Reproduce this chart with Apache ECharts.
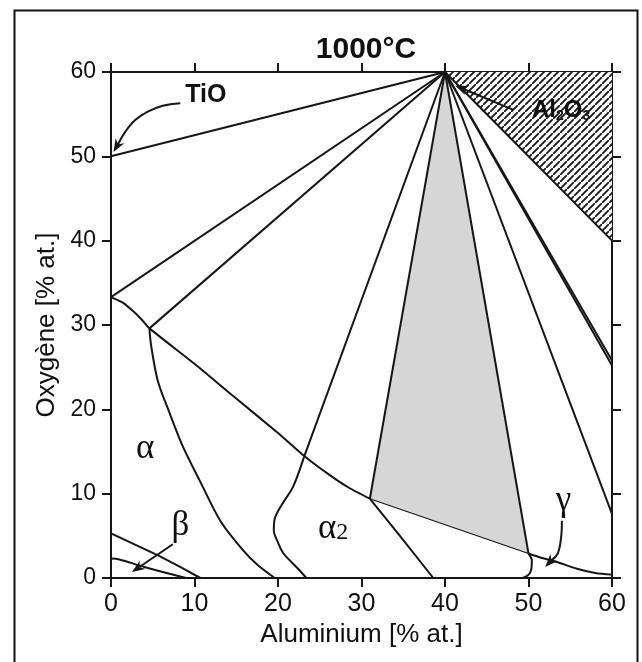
<!DOCTYPE html>
<html><head><meta charset="utf-8">
<script src="https://cdn.jsdelivr.net/npm/echarts@6/dist/echarts.min.js"></script>
<style>html,body{margin:0;padding:0;background:#fff}#c{width:642px;height:662px}</style>
</head><body><div id="c"></div>
<script>
// ---- data (Aluminium %, Oxygène %) ----
const xTicks = [0, 10, 20, 30, 40, 50, 60];
const yTicks = [0, 10, 20, 30, 40, 50, 60];
const apex = [40, 60];
const tieLineEnds = [[0, 50], [0, 33.3], [4.6, 29.6], [23.1, 14.3], [31, 9.4], [50, 2.9], [60, 7.6], [60, 25.2], [60, 25.8], [60, 40]];
const oxideBoundary = [[0, 33.3], [1.5, 32.6], [2.8, 31.5], [3.8, 30.5], [4.6, 29.6], [10, 25.4], [14.6, 21.6], [20, 17.2], [23.1, 14.5], [26.2, 12.2], [28.5, 10.7], [31, 9.4]];
const thinBoundary = [[31, 9.4], [50, 2.9]];
const gammaSide = [[50, 2.9], [51.5, 2.4], [53.4, 1.9], [55.8, 1.1], [58, 0.6], [60, 0.4]];
const alphaCurve = [[4.6, 29.6], [4.8, 27.6], [5.6, 23.4], [7.0, 19.6], [8.6, 15.6], [10.7, 11.4], [13.2, 6.6], [15.8, 3.3], [17.6, 1.5], [19.6, 0]];
const alpha2Left = [[23.1, 14.3], [21.8, 10.8], [20.4, 8.6], [19.6, 7.0], [19.5, 5.6], [20.0, 4.2], [20.6, 3.0], [21.5, 2.0], [22.4, 1.1], [23.4, 0]];
const alpha2Right = [[31, 9.4], [34.6, 5.0], [38.6, 0]];
const gammaLeft = [[50, 2.9], [50.4, 2.1], [50.3, 0.9], [49.9, 0.3], [49.3, 0]];
const betaUpper = [[0, 5.3], [3, 3.9], [5.7, 2.65], [8.5, 1.2], [10.7, 0]];
const betaLower = [[0, 2.3], [1, 2.2], [4, 1.3], [9, 0]];
const greyRegion = [[40, 60], [31, 9.4], [50, 2.9]];
const al2o3Region = [[40, 60], [60, 60], [60, 40]];
const tioArrow = [[8.3, 56.3], [6.2, 56.0], [4.4, 55.3], [2.9, 54.3], [1.7, 52.9], [0.3, 50.5]];
const betaArrow = [[7.4, 4.0], [2.5, 0.7]];
const gammaArrow = [[54, 6.8], [53.9, 4.8], [53.5, 2.9], [52.0, 1.3]];
const al2o3Arrow = [[48.2, 55.5], [41.2, 58.4]];
const labels = [
  {text: 'TiO', pos: [11.35, 57.3], kind: 'bold'},
  {text: 'Al2O3', pos: [53.9, 55.4], kind: 'al2o3'},
  {text: 'α', pos: [4.1, 15.3], kind: 'greek'},
  {text: 'α2', pos: [26.6, 5.8], kind: 'alpha2'},
  {text: 'β', pos: [8.3, 6.2], kind: 'greek'},
  {text: 'γ', pos: [54.2, 9.2], kind: 'greek'}
];

// ---- rendering ----
const INK = '#161616';
const T = 7;
const hatch = document.createElement('canvas');
hatch.width = T; hatch.height = T;
(function () {
  const g = hatch.getContext('2d');
  g.fillStyle = '#fff'; g.fillRect(0, 0, T, T);
  g.strokeStyle = INK; g.lineWidth = 1.8;
  g.beginPath();
  g.moveTo(-1, T + 1); g.lineTo(T + 1, -1);
  g.moveTo(-T - 1, 1); g.lineTo(1, -T - 1);
  g.moveTo(T - 1, 2 * T + 1); g.lineTo(2 * T + 1, T - 1);
  g.stroke();
})();

const chart = echarts.init(document.getElementById('c'), null, {renderer: 'canvas'});

function lineSeries(data, width, smooth) {
  return {type: 'line', data: data, showSymbol: false, symbol: 'none', silent: true, z: 5,
    smooth: smooth || false, lineStyle: {color: INK, width: width || 2}};
}
function polySeries(pts, fill, z) {
  return {type: 'custom', data: [0], silent: true, z: z,
    renderItem: function (params, api) {
      return {type: 'polygon', shape: {points: pts.map(p => api.coord(p))},
        style: {fill: fill, stroke: null}};
    }};
}
function arrowSeries(pts) {
  return {type: 'custom', data: [0], silent: true, z: 6,
    renderItem: function (params, api) {
      const c = pts.map(p => api.coord(p));
      const e = c[c.length - 1], b = c[c.length - 2];
      let dx = e[0] - b[0], dy = e[1] - b[1];
      const L = Math.hypot(dx, dy); dx /= L; dy /= L;
      const len = 13, hw = 5;
      const base = [e[0] - dx * len, e[1] - dy * len];
      const notch = [e[0] - dx * len * 0.7, e[1] - dy * len * 0.7];
      const left = [base[0] - dy * hw, base[1] + dx * hw];
      const right = [base[0] + dy * hw, base[1] - dx * hw];
      const body = c.slice(0, -1).concat([notch]);
      return {type: 'group', children: [
        {type: 'polyline', shape: {points: body, smooth: 0.4}, style: {stroke: INK, lineWidth: 2, fill: null}},
        {type: 'polygon', shape: {points: [e, left, notch, right]}, style: {fill: INK}}
      ]};
    }};
}
function labelSeries() {
  return {type: 'custom', data: labels.map((l, i) => i), silent: true, z: 8,
    renderItem: function (params, api) {
      const l = labels[params.dataIndex];
      const p = api.coord(l.pos);
      let style;
      if (l.kind === 'bold') {
        style = {text: l.text, font: 'bold 25px "Liberation Sans", Arial, sans-serif', fill: '#111'};
      } else if (l.kind === 'al2o3') {
        style = {text: '{a|Al}{s|2}{a|O}{s|3}', fill: '#111',
          rich: {a: {font: 'bold 24px "Liberation Sans", Arial, sans-serif', fill: '#111'},
                 s: {font: 'bold 14px "Liberation Sans", Arial, sans-serif', fill: '#111', verticalAlign: 'bottom', padding: [8, 0, 0, 0]}}};
      } else if (l.kind === 'alpha2') {
        style = {text: '{a|α}{s|2}', fill: '#111',
          rich: {a: {font: '35px "Liberation Serif", serif', fill: '#111'},
                 s: {font: '24px "Liberation Serif", serif', fill: '#111', padding: [8, 0, 0, 0]}}};
      } else {
        style = {text: l.text, font: '35px "Liberation Serif", serif', fill: '#111'};
      }
      style.x = p[0]; style.y = p[1]; style.align = 'center'; style.verticalAlign = 'middle';
      return {type: 'text', style: style};
    }};
}

const series = [
  polySeries(al2o3Region, {image: hatch, repetition: 'repeat'}, 1),
  polySeries(greyRegion, '#d6d6d6', 1)
];
tieLineEnds.forEach(function (e) { series.push(lineSeries([apex, e], 2)); });
series.push(lineSeries(oxideBoundary, 2, 0.2));
[alphaCurve, alpha2Left, gammaLeft, gammaSide, betaLower].forEach(function (d) {
  series.push(lineSeries(d, 2, 0.3));
});
[alpha2Right, betaUpper].forEach(function (d) { series.push(lineSeries(d, 2)); });
series.push(lineSeries(thinBoundary, 1.2));
[tioArrow, betaArrow, gammaArrow, al2o3Arrow].forEach(function (d) { series.push(arrowSeries(d)); });
series.push(labelSeries());

const axisCommon = {
  type: 'value', min: xTicks[0], max: xTicks[xTicks.length - 1], interval: 10,
  splitLine: {show: false},
  axisLine: {show: true, onZero: false, lineStyle: {color: INK, width: 2}},
  axisTick: {show: true, inside: false, length: 9, lineStyle: {color: INK, width: 2}}
};
const tickFont = '"Liberation Sans", Arial, Helvetica, sans-serif';

chart.setOption({
  animation: false,
  backgroundColor: '#fff',
  title: {text: '1000°C', left: 361, top: 30, textAlign: 'center',
    textStyle: {fontFamily: tickFont, fontWeight: 'bold', fontSize: 30, color: '#111'}},
  grid: {left: 111, right: 30, top: 72, bottom: 84},
  xAxis: [
    Object.assign({}, axisCommon, {position: 'bottom',
      axisLabel: {fontSize: 25, color: '#111', margin: 14, fontFamily: tickFont},
      name: 'Aluminium [% at.]', nameLocation: 'middle', nameGap: 43,
      nameTextStyle: {fontSize: 26, color: '#111', fontFamily: tickFont}}),
    Object.assign({}, axisCommon, {position: 'top', axisLabel: {show: false}})
  ],
  yAxis: [
    Object.assign({}, axisCommon, {min: yTicks[0], max: yTicks[yTicks.length - 1], position: 'left',
      axisLabel: {fontSize: 23, color: '#111', margin: 15, fontFamily: tickFont},
      name: 'Oxygène [% at.]', nameLocation: 'middle', nameGap: 49, nameRotate: 90,
      nameTextStyle: {fontSize: 26, color: '#111', fontFamily: tickFont}}),
    Object.assign({}, axisCommon, {min: yTicks[0], max: yTicks[yTicks.length - 1], position: 'right', axisLabel: {show: false}})
  ],
  graphic: [{type: 'rect', left: 12, top: 8, shape: {width: 623, height: 700},
    style: {fill: null, stroke: '#111', lineWidth: 2}, silent: true, z: 0}],
  series: series
});
</script></body></html>
